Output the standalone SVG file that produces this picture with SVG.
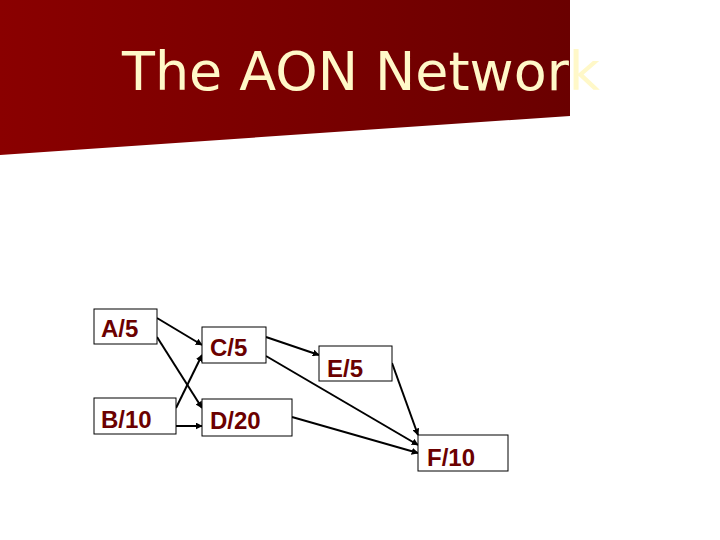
<svg xmlns="http://www.w3.org/2000/svg" width="720" height="540" viewBox="0 0 720 540">
<defs>
<linearGradient id="g" x1="0" y1="0" x2="1" y2="0"><stop offset="0" stop-color="#8a0000"/><stop offset="1" stop-color="#6a0000"/></linearGradient>
<marker id="ah" viewBox="0 0 10 10" refX="9" refY="5" markerWidth="7" markerHeight="7" orient="auto" markerUnits="userSpaceOnUse"><path d="M0,0 L10,5 L0,10 z" fill="#000"/></marker>
<style>
.box{fill:#fff;stroke:#000;stroke-width:1}
.lbl{font-family:"Liberation Sans",Arial,sans-serif;font-weight:bold;font-size:24px;fill:#6b0000}
.c{stroke:#000;stroke-width:2;fill:none;marker-end:url(#ah)}
</style>
</defs>
<rect width="720" height="540" fill="#fff"/>
<polygon points="0,0 570,0 570,116 0,155" fill="url(#g)"/>
<text x="122" y="90" font-family="DejaVu Sans,Verdana,sans-serif" font-size="54" fill="#fff8c8" textLength="478" lengthAdjust="spacingAndGlyphs">The AON Network</text>
<g id="connectors">
<line class="c" x1="157" y1="318" x2="202" y2="345"/>
<line class="c" x1="157" y1="337" x2="202" y2="408"/>
<line class="c" x1="176" y1="408" x2="202" y2="355"/>
<line class="c" x1="176" y1="426" x2="202" y2="426"/>
<line class="c" x1="266" y1="337" x2="319" y2="355"/>
<line class="c" x1="266" y1="356" x2="418" y2="445"/>
<line class="c" x1="392" y1="363" x2="418" y2="435"/>
<line class="c" x1="292" y1="417" x2="418" y2="453"/>
</g>
<g id="A"><rect class="box" x="94" y="309" width="63" height="35"/><text class="lbl" x="101" y="337">A/5</text></g>
<g id="C"><rect class="box" x="202" y="327" width="64" height="36"/><text class="lbl" x="210" y="356">C/5</text></g>
<g id="E"><rect class="box" x="319" y="346" width="73" height="35"/><text class="lbl" x="327" y="377">E/5</text></g>
<g id="B"><rect class="box" x="94" y="398" width="82" height="36"/><text class="lbl" x="101" y="428">B/10</text></g>
<g id="D"><rect class="box" x="202" y="399" width="90" height="37"/><text class="lbl" x="210" y="429">D/20</text></g>
<g id="F"><rect class="box" x="418" y="435" width="90" height="36"/><text class="lbl" x="427" y="466">F/10</text></g>
</svg>
